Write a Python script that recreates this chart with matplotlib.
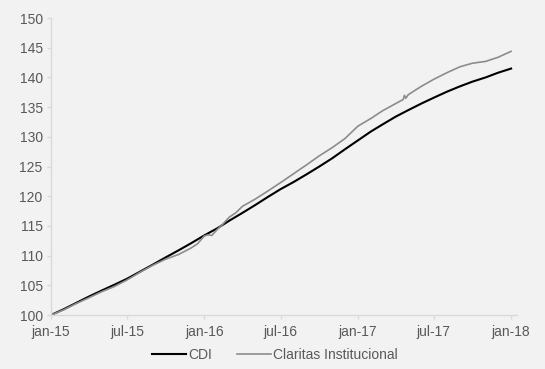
import matplotlib
matplotlib.use("Agg")
import matplotlib.pyplot as plt
import pandas as pd

# ---- data ----
cdi_dates = pd.date_range("2015-01-01", "2018-01-01", freq="MS")
cdi_values = [100.0, 101.0, 102.0, 103.1, 104.1, 105.1, 106.1, 107.3, 108.5, 109.7,
              110.9, 112.1, 113.4, 114.6, 115.9, 117.2, 118.5, 119.9, 121.2, 122.4,
              123.7, 125.0, 126.4, 127.9, 129.4, 130.9, 132.1, 133.4, 134.5, 135.6,
              136.6, 137.6, 138.5, 139.3, 140.0, 140.8, 141.5]

clar_dates = ["2015-01-01", "2015-02-01", "2015-03-01", "2015-04-01", "2015-05-01",
              "2015-06-01", "2015-07-01", "2015-08-01", "2015-09-01", "2015-10-01",
              "2015-11-01", "2015-12-01", "2015-12-16", "2016-01-01", "2016-01-10",
              "2016-01-19", "2016-02-01", "2016-02-13", "2016-03-01", "2016-03-16",
              "2016-04-01", "2016-05-01", "2016-06-01", "2016-07-01", "2016-08-01",
              "2016-09-01", "2016-10-01", "2016-11-01", "2016-12-01", "2017-01-01",
              "2017-02-01", "2017-03-01", "2017-04-01", "2017-04-19", "2017-04-22",
              "2017-04-25", "2017-05-01", "2017-06-01", "2017-07-01", "2017-08-01",
              "2017-09-01", "2017-10-01", "2017-11-01", "2017-12-01", "2018-01-01"]
clar_values = [100.0, 100.9, 101.9, 102.9, 103.9,
               104.8, 105.9, 107.2, 108.4, 109.4,
               110.2, 111.3, 112.0, 113.3, 113.5,
               113.4, 114.4, 115.2, 116.5, 117.2,
               118.3, 119.5, 120.9, 122.3, 123.8,
               125.3, 126.8, 128.2, 129.7, 131.8,
               133.1, 134.4, 135.6, 136.3, 137.0,
               136.5, 137.1, 138.5, 139.7, 140.8,
               141.8, 142.4, 142.7, 143.4, 144.4]

tick_dates = ["2015-01-01", "2015-07-01", "2016-01-01", "2016-07-01",
              "2017-01-01", "2017-07-01", "2018-01-01"]
tick_labels = ["jan-15", "jul-15", "jan-16", "jul-16", "jan-17", "jul-17", "jan-18"]
y_ticks = [100, 105, 110, 115, 120, 125, 130, 135, 140, 145, 150]

# ---- plot ----
plt.rcParams["font.family"] = ["Liberation Sans", "DejaVu Sans"]
bg = "#f2f2f2"
fig = plt.figure(figsize=(5.45, 3.69), dpi=100, facecolor=bg)
ax = fig.add_axes([0.0936, 0.1463, 0.855, 0.8047], facecolor=bg)

ax.plot(cdi_dates, cdi_values, color="#000000", lw=1.5, label="CDI")
ax.plot(pd.to_datetime(clar_dates), clar_values, color="#8c8c8c", lw=1.2,
        label="Claritas Institucional")

ax.set_ylim(100, 150)
ax.set_yticks(y_ticks)
ax.set_xlim(pd.Timestamp("2015-01-01"), pd.Timestamp("2018-01-15"))
ax.set_xticks(pd.to_datetime(tick_dates))
ax.set_xticklabels(tick_labels)

for s in ["top", "right"]:
    ax.spines[s].set_visible(False)
for s in ["left", "bottom"]:
    ax.spines[s].set_color("#d9d9d9")
    ax.spines[s].set_linewidth(1.0)
ax.tick_params(axis="both", colors="#d9d9d9", labelcolor="#595959",
               labelsize=10, length=3, width=1.0)
ax.tick_params(axis="x", pad=4)
ax.tick_params(axis="y", pad=3)

fig.legend(loc="lower center", bbox_to_anchor=(0.505, -0.015), ncol=2, frameon=False,
           fontsize=10, handlelength=2.4, handletextpad=0.2, columnspacing=1.8,
           labelcolor="#595959")

fig.savefig("out.png", dpi=100, facecolor=bg)
